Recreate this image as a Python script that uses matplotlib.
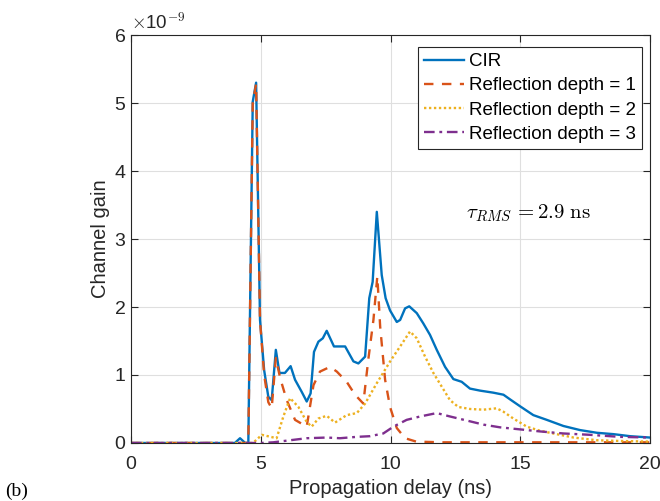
import matplotlib
matplotlib.use("Agg")
from matplotlib import pyplot as plt

# propagation delay (ns) and channel gain (x 1e-9)
t_cir = [0, 4.0, 4.2, 4.4, 4.52, 4.69, 4.82, 4.97, 5.13, 5.29, 5.42, 5.58, 5.72, 5.93,
         6.15, 6.32, 6.58, 6.77, 6.92, 7.05, 7.22, 7.39, 7.54, 7.82, 8.25, 8.57, 8.76,
         9.02, 9.18, 9.31, 9.47, 9.66, 9.81, 9.98, 10.24, 10.37, 10.56, 10.72, 11.01,
         11.26, 11.52, 11.78, 12.10, 12.42, 12.74, 13.06, 13.45, 13.96, 14.35, 14.61,
         14.99, 15.50, 16.02, 16.66, 17.30, 17.95, 18.59, 19.23, 20]
g_cir = [0, 0, 0.07, 0.0, 0.0, 5.02, 5.30, 1.81, 1.07, 0.68, 0.63, 1.37, 1.03, 1.03,
         1.13, 0.93, 0.75, 0.61, 0.73, 1.34, 1.49, 1.54, 1.65, 1.42, 1.42, 1.20, 1.17,
         1.27, 2.13, 2.37, 3.40, 2.47, 2.13, 1.95, 1.78, 1.81, 1.98, 2.01, 1.91,
         1.76, 1.59, 1.37, 1.12, 0.94, 0.90, 0.80, 0.77, 0.74, 0.71, 0.64,
         0.54, 0.41, 0.34, 0.25, 0.19, 0.15, 0.13, 0.10, 0.08]

t_d1 = [0, 4.52, 4.69, 4.82, 4.97, 5.13, 5.29, 5.42, 5.58, 5.75, 6.0, 6.32, 6.77, 7.03,
        7.28, 7.67, 7.93, 8.31, 8.63, 8.95, 9.14, 9.34, 9.49, 9.60, 9.79, 9.98, 10.24,
        10.56, 10.99, 12, 20]
g_d1 = [0, 0, 5.0, 5.28, 1.8, 1.0, 0.6, 0.51, 1.25, 0.95, 0.63, 0.34, 0.24, 0.85,
        1.05, 1.12, 1.05, 0.90, 0.71, 0.58, 1.22, 1.81, 2.45, 1.71, 0.93, 0.53, 0.22,
        0.07, 0.02, 0.01, 0.01]

t_d2 = [0, 4.7, 5.04, 5.61, 5.87, 6.13, 6.45, 6.77, 6.96, 7.22, 7.54, 7.86, 8.31, 8.70,
        9.02, 9.47, 10.0, 10.37, 10.75, 11.01, 11.33, 11.65, 11.97, 12.29, 12.61, 13.06,
        13.58, 14.09, 14.35, 14.73, 15.25, 15.76, 16.27, 17.05, 17.95, 18.8, 20]
g_d2 = [0, 0, 0.12, 0.07, 0.39, 0.66, 0.53, 0.31, 0.24, 0.36, 0.40, 0.30, 0.41, 0.44,
        0.58, 0.88, 1.21, 1.42, 1.64, 1.54, 1.27, 1.03, 0.83, 0.63, 0.53, 0.50,
        0.49, 0.51, 0.46, 0.36, 0.24, 0.18, 0.14, 0.08, 0.04, 0.03, 0.02]

t_d3 = [0, 5.0, 5.48, 6.77, 7.54, 8.05, 8.70, 9.21, 9.72, 10.11, 10.62, 11.14, 11.78,
        12.29, 12.94, 13.58, 14.22, 14.99, 15.76, 16.66, 17.69, 18.84, 20]
g_d3 = [0, 0, 0.01, 0.07, 0.08, 0.07, 0.09, 0.10, 0.14, 0.24, 0.34, 0.39, 0.44,
        0.39, 0.33, 0.27, 0.23, 0.20, 0.17, 0.14, 0.12, 0.09, 0.08]

labels = ["CIR", "Reflection depth = 1", "Reflection depth = 2", "Reflection depth = 3"]

plt.rcParams['font.family'] = ['Liberation Sans', 'DejaVu Sans']
plt.rcParams['mathtext.fontset'] = 'cm'

fig = plt.figure(figsize=(6.6, 5.01), dpi=100)
ax = fig.add_axes([0.1985, 0.1158, 0.7865, 0.8142])

scale = 1e-9
lw = 1.7
ax.plot(t_cir, [g * scale for g in g_cir], color='#0072BD', lw=lw, ls='-', label=labels[0])
ax.plot(t_d1, [g * scale for g in g_d1], color='#D95319', lw=lw, ls=(0, (4.0, 3.6)), label=labels[1])
ax.plot(t_d2, [g * scale for g in g_d2], color='#EDB120', lw=lw, ls=(0, (1, 1.1)), label=labels[2])
ax.plot(t_d3, [g * scale for g in g_d3], color='#7E2F8E', lw=lw, ls=(0, (4.5, 2, 1.2, 2)), label=labels[3])

ax.set_xlim(0, 20)
ax.set_ylim(0, 6e-9)
ax.set_xticks([0, 5, 10, 15, 20])
ax.set_yticks([i * 1e-9 for i in range(7)])
ax.set_yticklabels([str(i) for i in range(7)])
ax.grid(True, color='#dfdfdf', lw=0.8)
ax.set_axisbelow(True)
ax.tick_params(direction='in', top=True, right=True, labelsize=14, length=5,
               color='#262626', labelcolor='#262626', pad=4)
ax.tick_params(axis='x', pad=9.5)
for s in ax.spines.values():
    s.set_color('#262626')
    s.set_linewidth(0.8)

ax.set_xlabel("Propagation delay (ns)", fontsize=14.5, color='#262626', labelpad=4)
ax.set_ylabel("Channel gain", fontsize=14.5, color='#262626', labelpad=3)
ax.text(0.0, 1.006, r"$\times$10$^{-9}$", transform=ax.transAxes, fontsize=13.5,
        color='#262626', va='bottom', ha='left')

ax.text(12.9, 3.38e-9, r"$\tau_{RMS}\, = 2.9\ \mathrm{ns}$", fontsize=15, va='center')

leg = ax.legend(loc='upper right', bbox_to_anchor=(0.985, 0.971), borderaxespad=0,
                fontsize=13.5, handlelength=2.1, handletextpad=0.3,
                labelspacing=0.38, fancybox=False, framealpha=1,
                edgecolor='#262626', borderpad=0.33)
leg.get_frame().set_linewidth(0.8)

fig.text(0.008, 0.01, "(b)", fontsize=14, family='Liberation Serif')

fig.savefig("out.png", dpi=100)
